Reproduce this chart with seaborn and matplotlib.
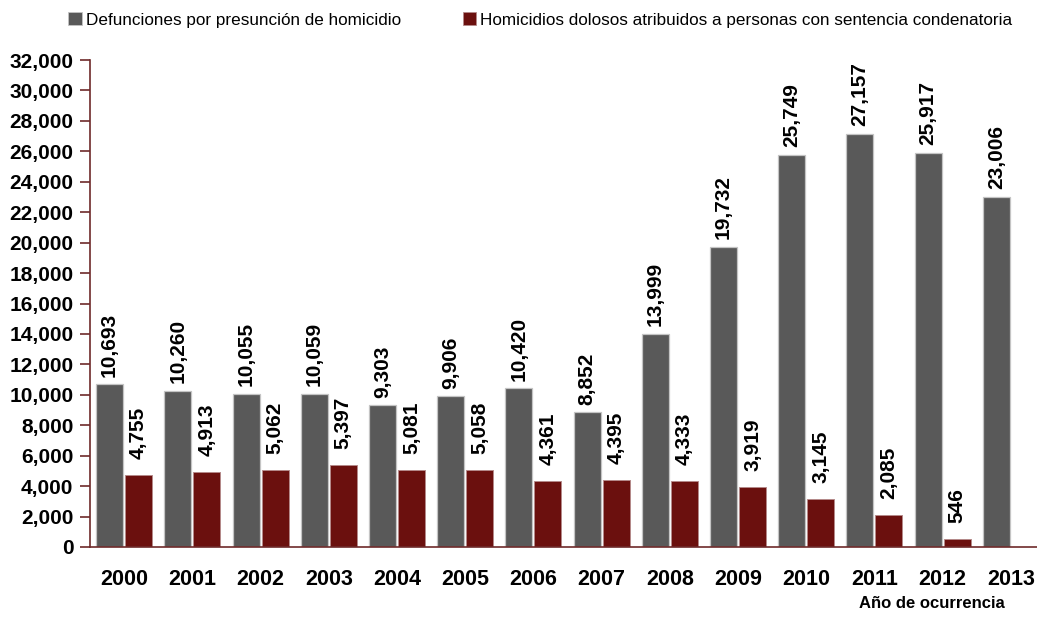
import matplotlib
matplotlib.use("Agg")
import matplotlib.pyplot as plt
import seaborn as sns
import pandas as pd
import numpy as np

# Años de ocurrencia y series
years = ["2000", "2001", "2002", "2003", "2004", "2005", "2006",
         "2007", "2008", "2009", "2010", "2011", "2012", "2013"]
defunciones = [10693, 10260, 10055, 10059, 9303, 9906, 10420,
               8852, 13999, 19732, 25749, 27157, 25917, 23006]
homicidios = [4755, 4913, 5062, 5397, 5081, 5058, 4361,
              4395, 4333, 3919, 3145, 2085, 546, np.nan]
series_names = ["Defunciones por presunción de homicidio",
                "Homicidios dolosos atribuidos a personas con sentencia condenatoria"]
y_ticks = list(range(0, 32001, 2000))

GRAY = "#595959"
RED = "#6b100e"
AXIS = "#6e2a2a"

sns.set_theme(style="white")
plt.rcParams["font.family"] = ["Liberation Sans", "DejaVu Sans"]
plt.rcParams["text.color"] = "black"
plt.rcParams["xtick.labelcolor"] = "black"
plt.rcParams["ytick.labelcolor"] = "black"

df = pd.DataFrame({
    "Año": years * 2,
    "Serie": [series_names[0]] * len(years) + [series_names[1]] * len(years),
    "Valor": defunciones + homicidios,
})

fig = plt.figure(figsize=(10.37, 6.17), dpi=100)
ax = fig.add_axes([90 / 1037, 1 - 547 / 617, 955 / 1037, (547 - 60) / 617])

sns.barplot(data=df, x="Año", y="Valor", hue="Serie", order=years,
            hue_order=series_names, palette=[GRAY, RED], width=0.85, gap=0.07,
            saturation=1, ax=ax, legend=False)

for patch in ax.containers[0]:
    patch.set_edgecolor("#c4c4c4")
    patch.set_linewidth(0.9)
for patch in ax.containers[1]:
    patch.set_edgecolor("#b58a8a")
    patch.set_linewidth(0.7)

# Etiquetas de valor verticales
ax.bar_label(ax.containers[0], fmt="{:,.0f}", rotation=90, padding=5.5,
             fontsize=15, fontweight="bold", color="black")
ax.bar_label(ax.containers[1], fmt="{:,.0f}", rotation=90, padding=11.5,
             fontsize=15, fontweight="bold", color="black")

ax.set_xlim(-0.5, len(years) - 0.5)
ax.set_ylim(0, 32000)
ax.set_yticks(y_ticks)
ax.set_yticklabels([f"{v:,}" for v in y_ticks], fontsize=15, fontweight="bold", color="black")
ax.set_xticks(range(len(years)))
ax.set_xticklabels(years, fontsize=15.5, fontweight="bold", color="black")
ax.set_xticks(np.arange(-0.5, len(years), 1.0), minor=True)
ax.tick_params(axis="x", which="major", length=0, pad=16)
ax.tick_params(axis="x", which="minor", length=7, width=1.2, color=AXIS, direction="out")
ax.tick_params(axis="y", length=7, width=1.2, color=AXIS, direction="out", pad=5, left=True)
ax.set_xlabel("")
ax.set_ylabel("")

for side in ["top", "right"]:
    ax.spines[side].set_visible(False)
for side in ["left", "bottom"]:
    ax.spines[side].set_color(AXIS)
    ax.spines[side].set_linewidth(1.2)
ax.grid(False)

fig.text(932 / 1037, 1 - 604 / 617, "Año de ocurrencia", ha="center", va="center",
         fontsize=12, fontweight="bold", color="black")

handles = [plt.Rectangle((0, 0), 1, 1, facecolor=GRAY, edgecolor="#c4c4c4", linewidth=0.6),
           plt.Rectangle((0, 0), 1, 1, facecolor=RED, edgecolor="#b58a8a", linewidth=0.6)]
leg = fig.legend(handles, series_names, loc="center left",
                 bbox_to_anchor=(68 / 1037, 1 - 20 / 617), ncol=2, frameon=False,
                 fontsize=12.3, handlelength=0.8, handleheight=0.8, handletextpad=0.25,
                 columnspacing=3.6, borderaxespad=0, borderpad=0)
for t in leg.get_texts():
    t.set_color("black")

fig.savefig("out.png", dpi=100)
